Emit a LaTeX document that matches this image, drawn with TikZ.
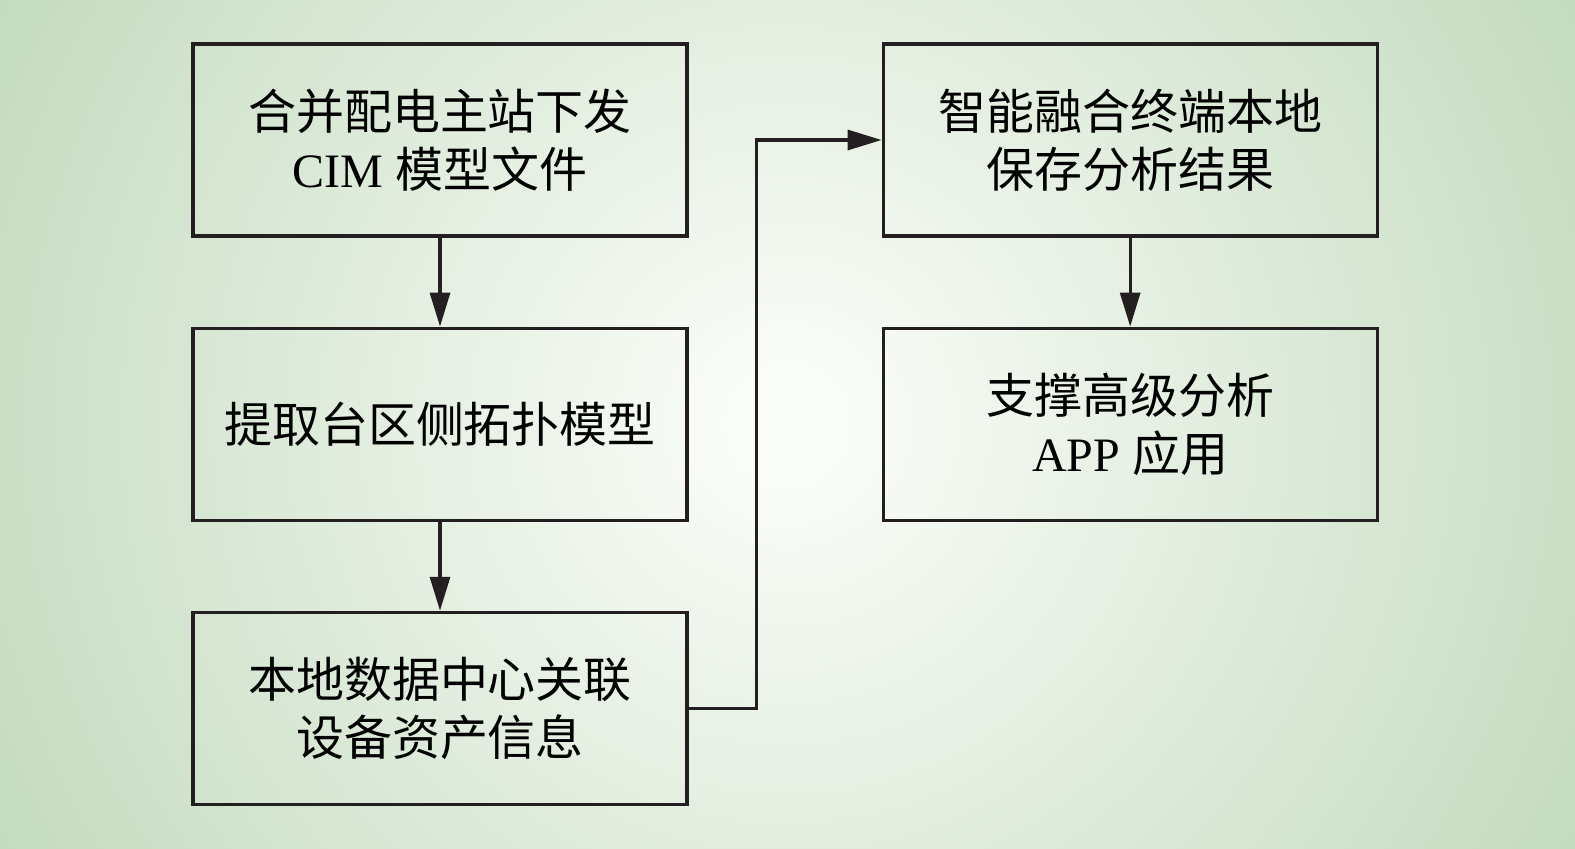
\documentclass[tikz,border=0pt]{standalone}
\usepackage{fontspec}
\setmainfont{Liberation Serif}
\newfontfamily\cjk{Noto Sans CJK SC}
\usetikzlibrary{positioning,arrows.meta}
\definecolor{glowc}{RGB}{250,252,248}
\definecolor{edgec}{RGB}{191,216,186}
\definecolor{inkc}{RGB}{35,31,32}
\pgfdeclareradialshading{bgglow}{\pgfpointorigin}{color(0bp)=(glowc); color(1.5bp)=(glowc); color(27bp)=(edgec); color(50bp)=(edgec)}
\begin{document}
\begin{tikzpicture}[node distance={17.8mm and 38.6mm}, line width=1.8pt, draw=inkc, main/.style = {draw=inkc, rectangle, minimum width=98.8mm, minimum height=38.4mm, inner sep=0pt, align=center, font=\fontsize{27.3}{33}\selectfont}, >={Triangle[length=6.8mm,width=4mm]}]
                \useasboundingbox (0,0) rectangle (31.5,-16.96);
                \begin{scope}
                \clip (0,0) rectangle (31.5,-16.96);
                \shade[shading=bgglow] (15.74-18,-8.48-18) rectangle ++(36,36);
                \end{scope}
                \node[main] (1) at (8.8,-2.8) {{\cjk 合并配电主站下发}\\CIM {\cjk 模型文件}};
                \node[main] (2) [below=of 1] {\cjk 提取台区侧拓扑模型};
                \node[main] (3) [below=of 2] {{\cjk 本地数据中心关联}\\{\cjk 设备资产信息}};
                \node[main] (4) [right=of 1] {{\cjk 智能融合终端本地}\\{\cjk 保存分析结果}};
                \node[main] (5) [below=of 4] {{\cjk 支撑高级分析}\\APP {\cjk 应用}};
                \draw[->, inkc] (1) -- (2);
                \draw[->, inkc] (2) -- (3);
                \draw[->, inkc] (3.east) -- ++(1.36,0) |- (4.west);
                \draw[->, inkc] (4) -- (5);
            \end{tikzpicture}
\end{document}
